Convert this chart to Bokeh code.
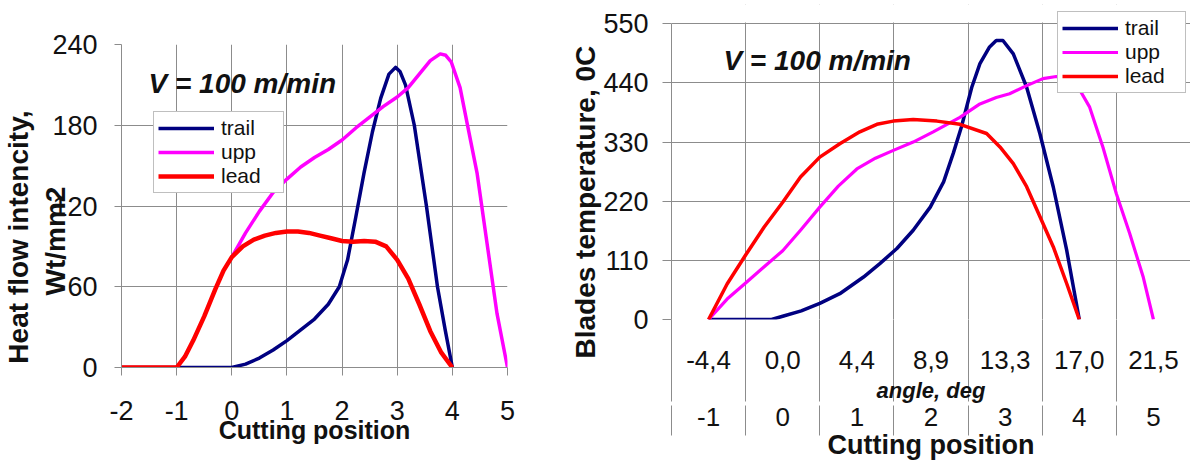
from bokeh.plotting import figure
from bokeh.models import (FixedTicker, LinearAxis, Label, Legend, LegendItem, Range1d,
                          BoxAnnotation, Title)
from bokeh.layouts import row
from bokeh.embed import file_html
from bokeh.resources import INLINE

FONT = "Liberation Sans"
GRID = "#8c8c8c"
C_TRAIL, C_UPP, C_LEAD = "#000080", "#FF00FF", "#FF0000"

# ---------------- left chart: heat flow intensity ----------------
heat_xticks = [-2, -1, 0, 1, 2, 3, 4, 5]
heat_yticks = [0, 60, 120, 180, 240]

heat_trail_x = [-2, -1, -0.5, 0, 0.25, 0.5, 0.75, 1.0, 1.25, 1.5, 1.75, 1.95, 2.1, 2.25, 2.4,
                2.55, 2.7, 2.85, 2.97, 3.05, 3.15, 3.31, 3.53, 3.73, 3.87, 4.0]
heat_trail = [0, 0, 0, 0, 2.5, 7, 13, 20, 28, 36, 47, 60, 80, 112, 145,
              175, 200, 218, 223, 220, 210, 180, 120, 60, 28, 0]

heat_upp_x = [0, 0.25, 0.5, 0.75, 1.0, 1.25, 1.5, 1.75, 2.0, 2.25, 2.5, 2.75, 3.0, 3.2, 3.4,
              3.6, 3.78, 3.88, 3.98, 4.14, 4.27, 4.45, 4.63, 4.81, 5.0]
heat_upp = [82, 100, 116, 130, 140, 149, 156, 162, 169, 178, 186, 194, 201, 208, 218,
            228, 233, 232, 227, 208, 181, 144, 92, 40, 0]

heat_lead_x = [-2, -1, -0.85, -0.7, -0.5, -0.3, -0.15, 0, 0.2, 0.4, 0.6, 0.8, 1.0, 1.2, 1.4,
               1.6, 1.8, 2.0, 2.2, 2.4, 2.6, 2.8, 3.0, 3.2, 3.4, 3.6, 3.8, 4.0]
heat_lead = [0, 0, 8, 20, 38, 58, 72, 82, 90, 95, 98, 100, 101, 101, 100,
             98, 96, 94, 93.5, 94, 93.5, 90, 80, 66, 47, 27, 11, 0]

# ---------------- right chart: blade temperature ----------------
temp_positions = [-1, 0, 1, 2, 3, 4, 5]
temp_angles = ["-4,4", "0,0", "4,4", "8,9", "13,3", "17,0", "21,5"]
temp_yticks = [0, 110, 220, 330, 440, 550]

temp_trail_x = [-1, -0.5, -0.15, 0, 0.25, 0.5, 0.77, 1.09, 1.31, 1.54, 1.76, 1.99, 2.17, 2.30,
                2.41, 2.55, 2.66, 2.79, 2.88, 2.97, 3.11, 3.29, 3.47, 3.65, 3.83, 4.0]
temp_trail = [0, 0, 0, 6, 16, 30, 48, 79, 104, 132, 166, 209, 256, 309,
              358, 432, 476, 507, 519, 519, 494, 432, 345, 246, 129, 0]

temp_upp_x = [-1, -0.75, -0.5, -0.25, 0, 0.24, 0.5, 0.75, 1.0, 1.25, 1.5, 1.76, 2.03, 2.39,
              2.66, 2.88, 3.06, 3.29, 3.51, 3.69, 3.87, 3.96, 4.14, 4.32, 4.5, 4.68, 4.86, 5.0]
temp_upp = [0, 38, 68, 98, 128, 166, 209, 248, 280, 300, 315, 330, 349, 376,
            401, 413, 420, 435, 448, 452, 450, 438, 395, 320, 234, 160, 80, 0]

temp_lead_x = [-1, -0.75, -0.5, -0.25, 0, 0.24, 0.5, 0.77, 1.04, 1.27, 1.49, 1.76, 2.08, 2.39,
               2.75, 2.93, 3.11, 3.29, 3.47, 3.65, 3.83, 4.0]
temp_lead = [0, 66, 120, 172, 218, 265, 302, 327, 349, 363, 369, 372, 369, 363,
             346, 321, 290, 247, 191, 135, 67, 0]


def style_legend(lg, size, label_width):
    lg.border_line_color = "#808080"
    lg.border_line_width = 1
    lg.background_fill_color = "white"
    lg.background_fill_alpha = 1
    lg.label_text_font = FONT
    lg.label_text_font_size = size
    lg.label_text_color = "#111111"
    lg.glyph_width = 56
    lg.glyph_height = 18
    lg.label_height = 18
    lg.label_width = label_width
    lg.label_standoff = 7
    lg.padding = 4
    lg.spacing = 0
    lg.margin = 0


# ---------- left figure ----------
p1 = figure(width=560, height=462, x_range=Range1d(-2, 5), y_range=Range1d(0, 240),
            output_backend="svg", toolbar_location=None,
            min_border_left=120, min_border_right=53, min_border_top=44, min_border_bottom=95)
p1.frame_align = False
p1.outline_line_color = None
p1.background_fill_color = "white"

xa = p1.xaxis[0]
xa.ticker = FixedTicker(ticks=heat_xticks)
xa.major_label_overrides = {float(k): str(k) for k in heat_xticks}
xa.axis_line_color = GRID
xa.major_tick_line_color = GRID
xa.major_tick_out = 8
xa.major_tick_in = 0
xa.minor_tick_line_color = None
xa.minor_tick_out = 0
xa.major_label_text_font = FONT
xa.major_label_text_font_size = "27px"
xa.major_label_text_color = "#111111"
xa.major_label_standoff = 25
xa.axis_label = "Cutting position"
xa.axis_label_text_font = FONT
xa.axis_label_text_font_size = "25px"
xa.axis_label_text_font_style = "bold"
xa.axis_label_text_color = "#111111"
xa.axis_label_standoff = -7

ya = p1.yaxis[0]
ya.ticker = FixedTicker(ticks=heat_yticks)
ya.axis_line_color = GRID
ya.major_tick_line_color = GRID
ya.major_tick_out = 7
ya.major_tick_in = 0
ya.minor_tick_line_color = None
ya.minor_tick_out = 0
ya.major_label_text_font = FONT
ya.major_label_text_font_size = "27px"
ya.major_label_text_color = "#111111"
ya.major_label_standoff = 17
# trailing spaces nudge the centred two-line title down, as in the original
ya.axis_label = "Heat flow intencity," + " " * 8 + "\n" + "Wt/mm2" + " " * 9
ya.axis_label_text_font = FONT
ya.axis_label_text_font_size = "28px"
ya.axis_label_text_font_style = "bold"
ya.axis_label_text_color = "#111111"
ya.axis_label_standoff = -22

p1.xgrid.ticker = FixedTicker(ticks=heat_xticks)
p1.ygrid.ticker = FixedTicker(ticks=heat_yticks)
for g in (p1.xgrid[0], p1.ygrid[0]):
    g.grid_line_color = GRID
    g.grid_line_width = 1

r1t = p1.line(heat_trail_x, heat_trail, line_color=C_TRAIL, line_width=3.5, line_join="round")
r1u = p1.line(heat_upp_x, heat_upp, line_color=C_UPP, line_width=3.5, line_join="round")
r1l = p1.line(heat_lead_x, heat_lead, line_color=C_LEAD, line_width=4.5, line_join="round")

lg1 = Legend(items=[LegendItem(label="trail", renderers=[r1t]),
                    LegendItem(label="upp", renderers=[r1u]),
                    LegendItem(label="lead", renderers=[r1l])],
             location=(32, 174))
style_legend(lg1, "21px", 58)
p1.add_layout(lg1)

p1.add_layout(Label(x=-1.51, y=211, text="V = 100 m/min", text_font=FONT,
                    text_font_size="28px", text_font_style="bold italic",
                    text_color="#111111", text_baseline="middle", text_align="left"))

# ---------- right figure ----------
# the frame reaches a little above the 550 line so that the legend can sit there;
# that strip is masked white so no grid shows above the top gridline
p2 = figure(width=630, height=462, x_range=Range1d(-1.5, 5.5), y_range=Range1d(0, 585.9),
            output_backend="svg", toolbar_location=None,
            min_border_left=111, min_border_right=0, min_border_top=4, min_border_bottom=143)
p2.frame_align = False
p2.outline_line_color = None
p2.background_fill_color = "white"

bounds = [v - 0.5 for v in temp_positions]

ax1 = p2.xaxis[0]
ax1.ticker = FixedTicker(ticks=temp_positions, minor_ticks=bounds)
ax1.major_label_overrides = {float(k): s for k, s in zip(temp_positions, temp_angles)}
ax1.axis_line_color = None
ax1.major_tick_line_color = None
ax1.major_tick_out = 0
ax1.major_tick_in = 0
ax1.minor_tick_line_color = GRID
ax1.minor_tick_out = 82
ax1.minor_tick_in = 0
ax1.major_label_text_font = FONT
ax1.major_label_text_font_size = "26px"
ax1.major_label_text_color = "#111111"
ax1.major_label_standoff = -51
ax1.axis_label = "angle, deg"
ax1.axis_label_text_font = FONT
ax1.axis_label_text_font_size = "22px"
ax1.axis_label_text_font_style = "bold italic"
ax1.axis_label_text_color = "#111111"
ax1.axis_label_standoff = 6

ax2 = LinearAxis(ticker=FixedTicker(ticks=temp_positions, minor_ticks=bounds))
ax2.major_label_overrides = {float(k): str(k) for k in temp_positions}
ax2.axis_line_color = None
ax2.major_tick_line_color = None
ax2.major_tick_out = 0
ax2.major_tick_in = 0
ax2.minor_tick_line_color = GRID
ax2.minor_tick_out = 30
ax2.minor_tick_in = 0
ax2.major_label_text_font = FONT
ax2.major_label_text_font_size = "26px"
ax2.major_label_text_color = "#111111"
ax2.major_label_standoff = -28
ax2.axis_label = "Cutting position"
ax2.axis_label_text_font = FONT
ax2.axis_label_text_font_size = "27px"
ax2.axis_label_text_font_style = "bold"
ax2.axis_label_text_color = "#111111"
ax2.axis_label_standoff = 1
p2.add_layout(ax2, "below")

ay = p2.yaxis[0]
ay.ticker = FixedTicker(ticks=temp_yticks)
ay.bounds = (temp_yticks[0], temp_yticks[-1])
ay.axis_line_color = GRID
ay.major_tick_line_color = GRID
ay.major_tick_out = 9
ay.major_tick_in = 0
ay.minor_tick_line_color = None
ay.minor_tick_out = 0
ay.major_label_text_font = FONT
ay.major_label_text_font_size = "27px"
ay.major_label_text_color = "#111111"
ay.major_label_standoff = 14

# y title as a side title, anchored at its start so it sits as low as in the original
p2.add_layout(Title(text="Blades temperature, 0C", align="left", offset=-39, standoff=0,
                    text_font=FONT, text_font_size="28px", text_font_style="bold",
                    text_color="#111111"), "left")

p2.xgrid.ticker = FixedTicker(ticks=bounds + [temp_positions[-1] + 0.5])
p2.ygrid.ticker = FixedTicker(ticks=temp_yticks)
for g in (p2.xgrid[0], p2.ygrid[0]):
    g.grid_line_color = GRID
    g.grid_line_width = 1

p2.add_layout(BoxAnnotation(bottom=temp_yticks[-1] + 2.5, fill_color="white", fill_alpha=1,
                            line_color=None, level="underlay"))

r2t = p2.line(temp_trail_x, temp_trail, line_color=C_TRAIL, line_width=3.5, line_join="round")
r2u = p2.line(temp_upp_x, temp_upp, line_color=C_UPP, line_width=3.2, line_join="round")
r2l = p2.line(temp_lead_x, temp_lead, line_color=C_LEAD, line_width=3.5, line_join="round")

lg2 = Legend(items=[LegendItem(label="trail", renderers=[r2t]),
                    LegendItem(label="upp", renderers=[r2u]),
                    LegendItem(label="lead", renderers=[r2l])],
             location=(386, 226))
style_legend(lg2, "21px", 56)
p2.add_layout(lg2)

p2.add_layout(Label(x=-0.8, y=482, text="V = 100 m/min", text_font=FONT,
                    text_font_size="28px", text_font_style="bold italic",
                    text_color="#111111", text_baseline="middle", text_align="left"))

layout = row(p1, p2, spacing=0)
open("out.html", "w").write(file_html(layout, INLINE))
